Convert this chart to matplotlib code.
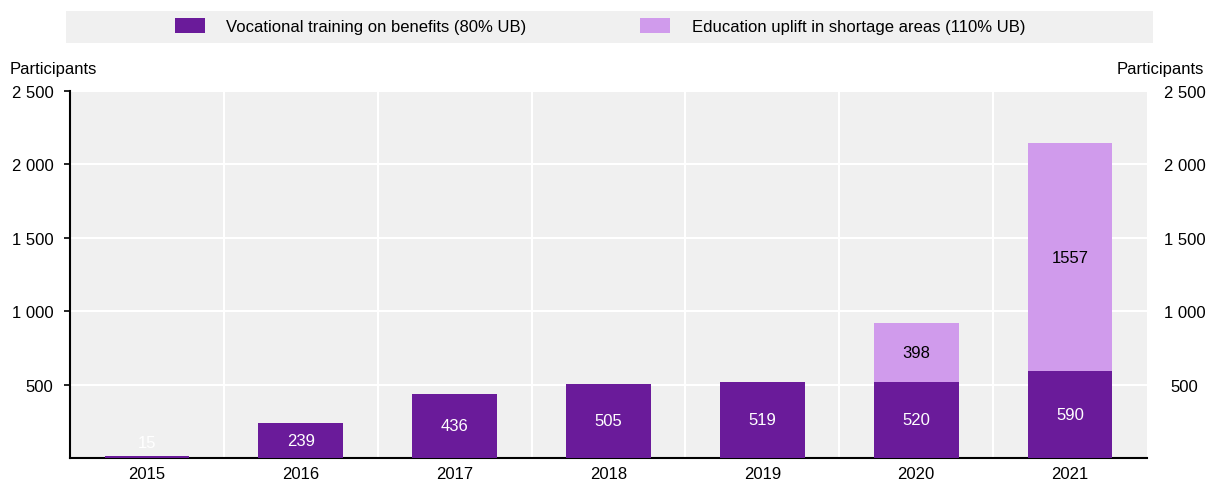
import matplotlib.pyplot as plt
import matplotlib.patches as mpatches
import numpy as np

plt.rcParams['font.family'] = ['Liberation Sans', 'DejaVu Sans']

years = ['2015', '2016', '2017', '2018', '2019', '2020', '2021']
vocational = [15, 239, 436, 505, 519, 520, 590]
uplift = [0, 0, 0, 0, 0, 398, 1557]
yticks = [500, 1000, 1500, 2000, 2500]
ytick_labels = ['500', '1 000', '1 500', '2 000', '2 500']

dark = '#6a1b9a'
light = '#d09bec'
bg = '#f0f0f0'

fig = plt.figure(figsize=(12.09, 4.85), dpi=100)
ax = fig.add_axes([70/1209, 1-459/485, 1077/1209, 367/485])
ax.set_facecolor(bg)

x = np.arange(len(years))
w = 0.55
ax.bar(x, vocational, w, color=dark, zorder=3, label='Vocational training on benefits (80% UB)')
ax.bar(x, uplift, w, bottom=vocational, color=light, zorder=3, label='Education uplift in shortage areas (110% UB)')

for i in range(len(years)):
    ax.text(x[i], max(vocational[i] / 2, 105), str(vocational[i]), ha='center', va='center',
            color='white', fontsize=12, zorder=4)
    if uplift[i] > 0:
        ax.text(x[i], vocational[i] + uplift[i] / 2, str(uplift[i]), ha='center', va='center',
                color='black', fontsize=12, zorder=4)

ax.set_xlim(-0.5, len(years) - 0.5)
ax.set_ylim(0, 2500)
ax.set_xticks(x)
ax.set_xticklabels(years, fontsize=12)
ax.set_xticks(np.arange(0.5, len(years) - 1, 1), minor=True)
ax.set_yticks(yticks)
ax.set_yticklabels(ytick_labels, fontsize=12)
ax.tick_params(axis='x', which='both', length=0, pad=6)
ax.tick_params(axis='y', length=4, width=1.2, direction='out', pad=8)
ax.grid(axis='y', color='white', linewidth=1.5, zorder=1)
ax.grid(axis='x', which='minor', color='white', linewidth=1.5, zorder=1)
for s in ['top', 'right']:
    ax.spines[s].set_visible(False)
ax.spines['left'].set_linewidth(1.5)
ax.spines['bottom'].set_linewidth(1.5)

ax2 = ax.twinx()
ax2.set_ylim(0, 2500)
ax2.set_yticks(yticks)
ax2.set_yticklabels(ytick_labels, fontsize=12, ha='center')
ax2.tick_params(axis='y', length=0, pad=27)
for s in ax2.spines.values():
    s.set_visible(False)

fig.text(10/1209, 1-70/485, 'Participants', fontsize=12, ha='left', va='center')
fig.text(1204/1209, 1-70/485, 'Participants', fontsize=12, ha='right', va='center')

# legend band
fig.patches.append(mpatches.Rectangle((66/1209, 1-44/485), 1087/1209, 32/485,
                                      transform=fig.transFigure, facecolor=bg, edgecolor='none'))
h, l = ax.get_legend_handles_labels()
fig.legend(h, l, loc='center', bbox_to_anchor=(600/1209, 1-27/485), ncol=2, frameon=False,
           fontsize=12, handlelength=1.8, handleheight=1.0, columnspacing=6.8, handletextpad=1.3)

fig.savefig('out.png', dpi=100)
